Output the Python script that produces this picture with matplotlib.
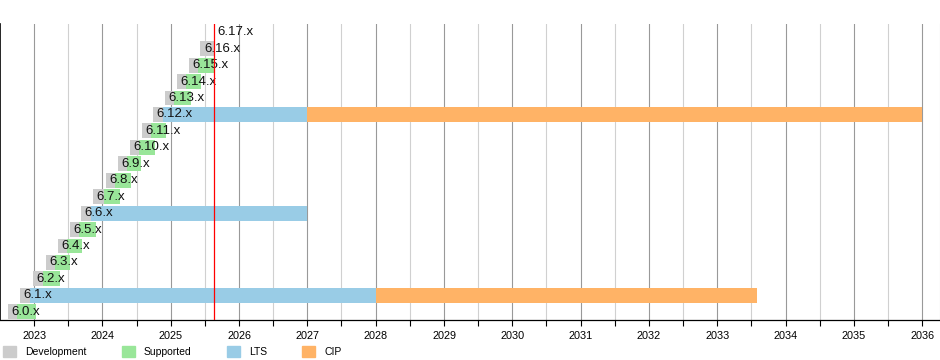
import matplotlib
matplotlib.use('Agg')
import matplotlib.pyplot as plt
import matplotlib.dates as mdates
from matplotlib.patches import Patch
import pandas as pd

# Kernel versiyalari va sanalar
versions = ['6.0', '6.1', '6.2', '6.3', '6.4', '6.5', '6.6', '6.7', '6.8', '6.9',
            '6.10', '6.11', '6.12', '6.13', '6.14', '6.15', '6.16', '6.17']
dev_start = ['2022-08-14', '2022-10-16', '2022-12-25', '2023-03-05', '2023-05-07',
             '2023-07-09', '2023-09-10', '2023-11-12', '2024-01-21', '2024-03-24',
             '2024-05-26', '2024-07-28', '2024-09-29', '2024-12-01', '2025-02-02',
             '2025-04-06', '2025-06-08', '2025-08-20']
release = ['2022-10-02', '2022-12-11', '2023-02-19', '2023-04-23', '2023-06-25',
           '2023-08-27', '2023-10-30', '2024-01-07', '2024-03-10', '2024-05-12',
           '2024-07-14', '2024-09-15', '2024-11-17', '2025-01-19', '2025-03-24',
           '2025-05-25', '2025-08-20', '2025-08-20']
support_end = ['2023-01-12', '2028-01-01', '2023-05-17', '2023-07-11', '2023-09-13',
               '2023-11-28', '2027-01-01', '2024-04-03', '2024-05-30', '2024-07-27',
               '2024-10-10', '2024-12-05', '2027-01-01', '2025-04-20', '2025-06-10',
               '2025-08-20', '2025-08-20', '2025-08-20']
lts_versions = ['6.1', '6.6', '6.12']
cip_end = {'6.1': '2033-08-01', '6.12': '2036-01-01'}
today = '2025-08-20'

legend_names = ['Development', 'Supported', 'LTS', 'CIP']
colors = {'Development': '#cccccc', 'Supported': '#99e699',
          'LTS': '#99cce6', 'CIP': '#ffb366'}

plt.rcParams['font.family'] = ['Liberation Sans', 'DejaVu Sans']

def d(s):
    return mdates.date2num(pd.Timestamp(s))

fig = plt.figure(figsize=(9.4, 3.6), dpi=100)
ax = fig.add_axes([0.0, 1 - 320 / 360, 1.0, 296 / 360])

h = 0.9
for i, v in enumerate(versions):
    s, r, e = d(dev_start[i]), d(release[i]), d(support_end[i])
    ax.barh(i, r - s, left=s, height=h, color=colors['Development'], zorder=3)
    kind = 'LTS' if v in lts_versions else 'Supported'
    if e > r:
        ax.barh(i, e - r, left=r, height=h, color=colors[kind], zorder=3)
    if v in cip_end:
        ax.barh(i, d(cip_end[v]) - e, left=e, height=h, color=colors['CIP'], zorder=3)
    # versiya nomi ustun boshida
    ax.annotate(v + '.x', (s, i), xytext=(2.5, 0), textcoords='offset points',
                ha='left', va='center', fontsize=9.5, color='#111111', zorder=5)

ax.axvline(d(today), color='red', lw=0.9, zorder=6)

ax.set_xlim(d('2022-07-02'), d('2036-04-05'))
ax.set_ylim(-0.5, len(versions) - 0.5)

ax.xaxis.set_major_locator(mdates.YearLocator())
ax.xaxis.set_major_formatter(mdates.DateFormatter('%Y'))
ax.xaxis.set_minor_locator(mdates.MonthLocator(bymonth=7))
ax.grid(which='major', axis='x', color='#999999', lw=0.8, zorder=0)
ax.grid(which='minor', axis='x', color='#d0d0d0', lw=0.8, zorder=0)
ax.set_yticks([])
ax.tick_params(axis='x', which='major', length=4, width=0.8, pad=4, labelsize=7.8)
ax.tick_params(axis='x', which='minor', length=4, width=0.8)

ax.spines['top'].set_visible(False)
ax.spines['right'].set_color('#d0d0d0')
ax.spines['left'].set_linewidth(1.2)
ax.spines['bottom'].set_linewidth(0.9)

handles = [Patch(color=colors[n]) for n in legend_names]
fig.legend(handles, legend_names, loc='lower left', bbox_to_anchor=(0, 0),
           ncol=4, frameon=False, fontsize=7.5, handlelength=1.25,
           handleheight=1.25, handletextpad=0.85, columnspacing=3.4,
           borderaxespad=0, borderpad=0.3)

plt.savefig('out.png', dpi=100)
plt.close()
